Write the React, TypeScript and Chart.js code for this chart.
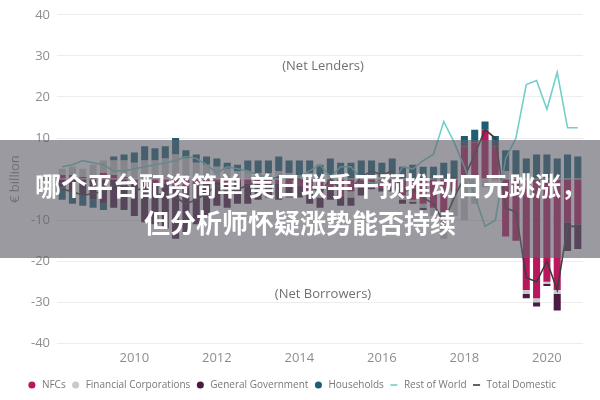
import { useEffect, useRef } from 'react'
import { Chart, registerables } from 'chart.js'

Chart.register(...registerables)

// quarterly, 2008 Q2 – 2020 Q4
const quarters = [
  '2008Q2', '2008Q3', '2008Q4',
  '2009Q1', '2009Q2', '2009Q3', '2009Q4',
  '2010Q1', '2010Q2', '2010Q3', '2010Q4',
  '2011Q1', '2011Q2', '2011Q3', '2011Q4',
  '2012Q1', '2012Q2', '2012Q3', '2012Q4',
  '2013Q1', '2013Q2', '2013Q3', '2013Q4',
  '2014Q1', '2014Q2', '2014Q3', '2014Q4',
  '2015Q1', '2015Q2', '2015Q3', '2015Q4',
  '2016Q1', '2016Q2', '2016Q3', '2016Q4',
  '2017Q1', '2017Q2', '2017Q3', '2017Q4',
  '2018Q1', '2018Q2', '2018Q3', '2018Q4',
  '2019Q1', '2019Q2', '2019Q3', '2019Q4',
  '2020Q1', '2020Q2', '2020Q3', '2020Q4',
]

const yearTicks = ['2010', '2012', '2014', '2016', '2018', '2020']

const nfcs = [
  1, 1, 0.5, 1, 1.5, 1, 0.5,
  -1, -1.5, -1, -1, -1.5, -2, -1, -1,
  -0.5, -1, -0.5, -1, -0.5, -0.5, -1, -1,
  -1.5, -3, -3.5, -2, -4, -3, -2, -1,
  -2, -1.5, -4, -5, -6, -7, -8, -3,
  8, 9, 12, 8, -14, -15, -27, -29,
  -25, -27, -10.5, -11,
]

const financialCorps = [
  1.5, 2, 2, 2.5, 3, 3.5, 4,
  4, 4.5, 4.5, 5, 6, 5, 4, 3.5,
  3, 2.5, 2, 2, 1.5, 1.5, 2, 1.5,
  1, 1.5, -1, 1, 0.5, -1.5, 1, 0.5,
  0.5, 1, -1, -0.5, -1, -2, -6.5, -6,
  -10, -6, -2, -0.5, 2, 1, -1, -1,
  -0.5, -1, 0, 0,
]

const generalGov = [
  -2, -3, -4, -5, -6, -7, -7.5,
  -8, -9, -10, -11, -13, -11, -10, -8,
  -6, -6, -5.5, -5, -4.5, -4, -4, -3.5,
  -3, -3, -2.5, -3, -2.5, -2, -2, -1.5,
  -1, -1.5, -1, -0.5, -0.5, 0, 0, 0.5,
  0, 0, 0, 0, 0, 0, -1, -1,
  -0.5, -4, -7, -6,
]

const households = [
  -3, -3, -2.5, -2, -1.5, 1, 1.5,
  2.5, 3.5, 3, 3, 4, 2, 2, 2,
  2, 1.5, 1.5, 2.5, 3, 3, 3.5, 3,
  3.5, 3, 3.5, 4, 3.5, 4, 3.5, 4,
  3.5, 4, 3, 3.5, 3, 3, 4, 4,
  2.5, 3, 2, 2.5, 5, 6, 5, 6,
  6, 5, 6, 5.5,
]

const restOfWorld = [
  3, 3.5, 4.5, 4, 3.5, 2, 2,
  2.5, 3, 3.5, 4, 4.5, 5.5, 5, 3.5,
  1.5, 3, 2.5, 2, 1, 0.5, 0, 0.5,
  0.5, 2, 3.5, 0.5, 3, 3, 0, -1,
  -0.5, -1.5, 3, 2.5, 4.5, 6, 14, 9,
  3, -4, -11.5, -10, 5, 10, 23, 24,
  17, 26, 12.5, 12.5,
]

const totalDomestic = [
  -2.5, -3, -4, -3.5, -3, -1.5, -1.5,
  -2.5, -2.5, -3.5, -4, -4.5, -6, -5, -3.5,
  -1.5, -3, -2.5, -1.5, -0.5, 0, 0.5, 0,
  0, -1.5, -3.5, 0, -2.5, -2.5, 0.5, 2,
  1, 2, -3, -2.5, -4.5, -6, -10.5, -4.5,
  0.5, 6, 12, 10, -7, -8, -24, -25,
  -20, -27, -11.5, -11.5,
]

const grey = '#8e8e8e'
const tickFont = { family: '"Open Sans", "DejaVu Sans", sans-serif', size: 13 }

const notesPlugin = {
  id: 'notes',
  beforeDatasetsDraw(chart: Chart) {
    const { ctx, chartArea, scales } = chart
    const x = (chartArea.left + chartArea.right) / 2 + 3
    ctx.save()
    ctx.font = '13px "Open Sans", sans-serif'
    ctx.fillStyle = '#707070'
    ctx.textAlign = 'center'
    ctx.textBaseline = 'middle'
    ctx.fillText('(Net Lenders)', x, scales.y.getPixelForValue(27.5))
    ctx.fillText('(Net Borrowers)', x, scales.y.getPixelForValue(-28))
    ctx.restore()
  },
}

export default function App() {
  const canvasRef = useRef<HTMLCanvasElement>(null)
  const chartRef = useRef<Chart | null>(null)

  useEffect(() => {
    if (!canvasRef.current) return
    chartRef.current?.destroy()
    const bar = (label: string, data: number[], color: string) => ({
      type: 'bar' as const,
      label,
      data,
      backgroundColor: color,
      stack: 'sectors',
      pointStyle: 'circle',
      order: 2,
      categoryPercentage: 0.95,
      barPercentage: 0.72,
    })
    const line = (label: string, data: number[], color: string, stack: string) => ({
      type: 'line' as const,
      label,
      data,
      borderColor: color,
      backgroundColor: color,
      borderWidth: 1.6,
      pointRadius: 0,
      tension: 0,
      stack,
      pointStyle: 'line',
      order: 1,
    })
    chartRef.current = new Chart(canvasRef.current, {
      type: 'bar',
      data: {
        labels: quarters,
        datasets: [
          bar('NFCs', nfcs, '#b8175e'),
          bar('Financial Corporations', financialCorps, '#c9c9c9'),
          bar('General Government', generalGov, '#4a1a43'),
          bar('Households', households, '#1b5f74'),
          line('Rest of World', restOfWorld, '#72d0c8', 'row'),
          line('Total Domestic', totalDomestic, '#3c3c3c', 'td'),
        ] as any,
      },
      options: {
        responsive: true, maintainAspectRatio: false, animation: false,
        layout: { padding: { top: 3, right: 17, left: 0, bottom: 0 } },
        plugins: {
          legend: {
            position: 'bottom',
            labels: {
              usePointStyle: true, boxHeight: 5, padding: 5, color: '#777',
              font: { family: '"Open Sans", sans-serif', size: 10 },
              sort: (a, b) => (a.datasetIndex ?? 0) - (b.datasetIndex ?? 0),
            },
          },
          tooltip: { enabled: false },
        },
        scales: {
          x: {
            stacked: true,
            grid: { display: false, drawTicks: false },
            border: { display: false },
            ticks: {
              autoSkip: false, maxRotation: 0, color: grey, font: tickFont, padding: 7,
              callback: (_v, i) => {
                const q = quarters[i]
                return q.endsWith('Q1') && yearTicks.includes(q.slice(0, 4)) ? q.slice(0, 4) : ''
              },
            },
            afterFit: (scale) => { scale.height += 2 },
          },
          y: {
            stacked: true, min: -40, max: 40,
            grid: { color: '#ededed', drawTicks: false },
            border: { display: false },
            ticks: { stepSize: 10, color: grey, font: tickFont, padding: 7 },
            title: { display: true, text: '€ billion', color: grey, font: tickFont, padding: { top: 7, bottom: 6 } },
            afterFit: (scale) => { scale.width = 57 },
          },
        },
      },
      plugins: [notesPlugin],
    })
    return () => chartRef.current?.destroy()
  }, [])

  return (
    <div style={{ position: 'absolute', left: 0, top: 0, width: 600, height: 400, background: '#fff' }}>
      <canvas ref={canvasRef} />
      <div style={{
        position: 'absolute', left: 0, top: 140, width: 600, height: 118,
        background: 'rgba(95,95,105,0.63)', color: '#fff',
        fontFamily: '"Noto Sans CJK SC", sans-serif', fontWeight: 700, fontSize: 26,
        lineHeight: '37px', textAlign: 'center', paddingTop: 26, boxSizing: 'border-box',
      }}>
        <div style={{ paddingLeft: 22 }}>哪个平台配资简单 美日联手干预推动日元跳涨，</div>
        <div>但分析师怀疑涨势能否持续</div>
      </div>
    </div>
  )
}
